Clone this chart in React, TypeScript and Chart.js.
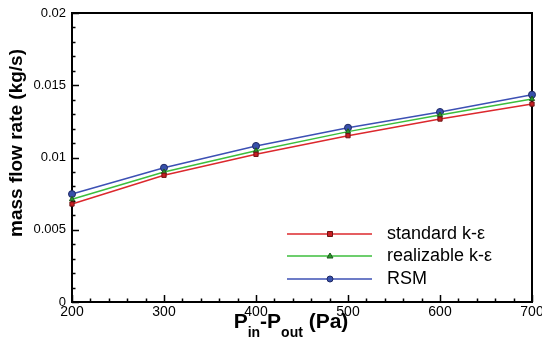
import React, { useEffect, useRef } from "react";
import { Chart, registerables } from "chart.js";
Chart.register(...registerables);

const pressureDrop = [200, 300, 400, 500, 600, 700];
const standardKE = [0.00678, 0.00877, 0.01022, 0.01151, 0.01266, 0.0137];
const realizableKE = [0.00711, 0.009, 0.01047, 0.01179, 0.01294, 0.01405];
const rsm = [0.00747, 0.00929, 0.0108, 0.01206, 0.01315, 0.01435];
const seriesLabels = ["standard k-ε", "realizable k-ε", "RSM"];
const xRange = [200, 700];
const yRange = [0, 0.02];
const xMajorStep = 100;
const xMinorStep = 20;
const yMajorStep = 0.005;
const yMinorStep = 0.001;

const FONT = "'Liberation Sans', Arial, Helvetica, sans-serif";

const framePlugin = {
  id: "frame",
  beforeDatasetsDraw(chart: any) {
    const { ctx, chartArea } = chart;
    const { left, right, top, bottom } = chartArea;
    const xs = chart.scales.x;
    const ys = chart.scales.y;
    ctx.save();
    ctx.strokeStyle = "#000";
    ctx.lineWidth = 1.5;
    ctx.beginPath();
    for (let v = xRange[0]; v <= xRange[1] + 1e-9; v += xMinorStep) {
      const px = Math.round(xs.getPixelForValue(v)) + 0.5;
      const major = Math.abs((v - xRange[0]) / xMajorStep - Math.round((v - xRange[0]) / xMajorStep)) < 1e-6;
      const len = major ? 7 : 3.5;
      ctx.moveTo(px, bottom);
      ctx.lineTo(px, bottom - len);
    }
    for (let i = 0; i <= Math.round((yRange[1] - yRange[0]) / yMinorStep); i++) {
      const v = yRange[0] + i * yMinorStep;
      const py = Math.round(ys.getPixelForValue(v)) + 0.5;
      const major = i % Math.round(yMajorStep / yMinorStep) === 0;
      const len = major ? 7 : 3.5;
      ctx.moveTo(left, py);
      ctx.lineTo(left + len, py);
    }
    ctx.stroke();
    ctx.lineWidth = 2;
    ctx.strokeRect(left, top, right - left, bottom - top);
    ctx.restore();
  },
  afterDraw(chart: any) {
    const { ctx, chartArea } = chart;
    ctx.save();
    ctx.fillStyle = "#000";
    ctx.font = `bold 19px ${FONT}`;
    ctx.textAlign = "center";
    ctx.textBaseline = "middle";
    ctx.translate(17, 143);
    ctx.rotate(-Math.PI / 2);
    ctx.fillText("mass flow rate (kg/s)", 0, 0);
    ctx.restore();

    ctx.save();
    ctx.fillStyle = "#000";
    ctx.textBaseline = "alphabetic";
    ctx.textAlign = "left";
    const parts = [
      { t: "P", sub: false },
      { t: "in", sub: true },
      { t: "-P", sub: false },
      { t: "out", sub: true },
      { t: " (Pa)", sub: false },
    ];
    const big = `bold 21px ${FONT}`;
    const small = `bold 14px ${FONT}`;
    let total = 0;
    for (const p of parts) {
      ctx.font = p.sub ? small : big;
      total += ctx.measureText(p.t).width;
    }
    const cx = 291;
    let x = cx - total / 2;
    const base = 328;
    for (const p of parts) {
      ctx.font = p.sub ? small : big;
      ctx.fillText(p.t, x, p.sub ? base + 9 : base);
      x += ctx.measureText(p.t).width;
    }
    ctx.restore();

    ctx.save();
    const rows = [234, 256, 279];
    chart.data.datasets.forEach((ds: any, i: number) => {
      const y = rows[i];
      ctx.strokeStyle = ds.borderColor;
      ctx.lineWidth = 1.5;
      ctx.beginPath();
      ctx.moveTo(287, y);
      ctx.lineTo(372, y);
      ctx.stroke();
      ctx.fillStyle = ds.pointBackgroundColor;
      ctx.strokeStyle = ds.pointBorderColor;
      ctx.lineWidth = 1;
      const mx = 330;
      ctx.beginPath();
      if (ds.pointStyle === "rect") {
        ctx.rect(mx - 2.5, y - 2.5, 5, 5);
      } else if (ds.pointStyle === "triangle") {
        ctx.moveTo(mx, y - 3);
        ctx.lineTo(mx + 3, y + 2);
        ctx.lineTo(mx - 3, y + 2);
        ctx.closePath();
      } else {
        ctx.arc(mx, y, 3, 0, Math.PI * 2);
      }
      ctx.fill();
      ctx.stroke();
      ctx.fillStyle = "#000";
      ctx.font = `18px ${FONT}`;
      ctx.textAlign = "left";
      ctx.textBaseline = "middle";
      ctx.fillText(ds.label, 387, y);
    });
    ctx.restore();
  },
};

export default function App() {
  const ref = useRef<HTMLCanvasElement>(null);
  useEffect(() => {
    if (!ref.current) return;
    const mk = (label: string, data: number[], line: string, fill: string, edge: string, style: string, r: number) => ({
      label,
      data: pressureDrop.map((x, i) => ({ x, y: data[i] })),
      borderColor: line,
      borderWidth: 1.5,
      backgroundColor: fill,
      pointBackgroundColor: fill,
      pointBorderColor: edge,
      pointBorderWidth: 1,
      pointStyle: style,
      pointRadius: r,
      tension: 0,
      clip: false,
    });
    const chart = new Chart(ref.current, {
      type: "line",
      data: {
        datasets: [
          mk(seriesLabels[0], standardKE, "rgb(220,40,45)", "rgb(200,30,35)", "rgb(110,20,20)", "rect", 3),
          mk(seriesLabels[1], realizableKE, "rgb(60,190,60)", "rgb(40,150,40)", "rgb(30,90,30)", "triangle", 3),
          mk(seriesLabels[2], rsm, "rgb(60,80,180)", "rgb(55,80,170)", "rgb(30,40,100)", "circle", 3.5),
        ] as any,
      },
      options: {
        responsive: false,
        animation: false,
        layout: { padding: { top: 13, right: 10, left: 0, bottom: 0 } },
        plugins: { legend: { display: false }, tooltip: { enabled: false } },
        scales: {
          x: {
            type: "linear",
            min: xRange[0],
            max: xRange[1],
            grid: { display: false, drawTicks: false },
            border: { display: false },
            ticks: {
              stepSize: xMajorStep,
              autoSkip: false,
              maxRotation: 0,
              padding: 2,
              color: "#000",
              font: { family: FONT, size: 14 },
            },
            afterFit: (s: any) => {
              s.height = 41;
              s.paddingLeft = 0;
              s.paddingRight = 0;
            },
          },
          y: {
            type: "linear",
            min: yRange[0],
            max: yRange[1],
            grid: { display: false, drawTicks: false },
            border: { display: false },
            ticks: {
              stepSize: yMajorStep,
              autoSkip: false,
              padding: 6,
              color: "#000",
              font: { family: FONT, size: 13 },
              callback: (v: any) => String(+Number(v).toFixed(4)),
            },
            afterFit: (s: any) => {
              s.width = 72;
              s.paddingTop = 0;
              s.paddingBottom = 0;
            },
          },
        },
      },
      plugins: [framePlugin],
    });
    return () => chart.destroy();
  }, []);
  return (
    <div style={{ position: "absolute", left: 0, top: 0, width: 542, height: 343, background: "#fff" }}>
      <canvas ref={ref} width={542} height={343} />
    </div>
  );
}
